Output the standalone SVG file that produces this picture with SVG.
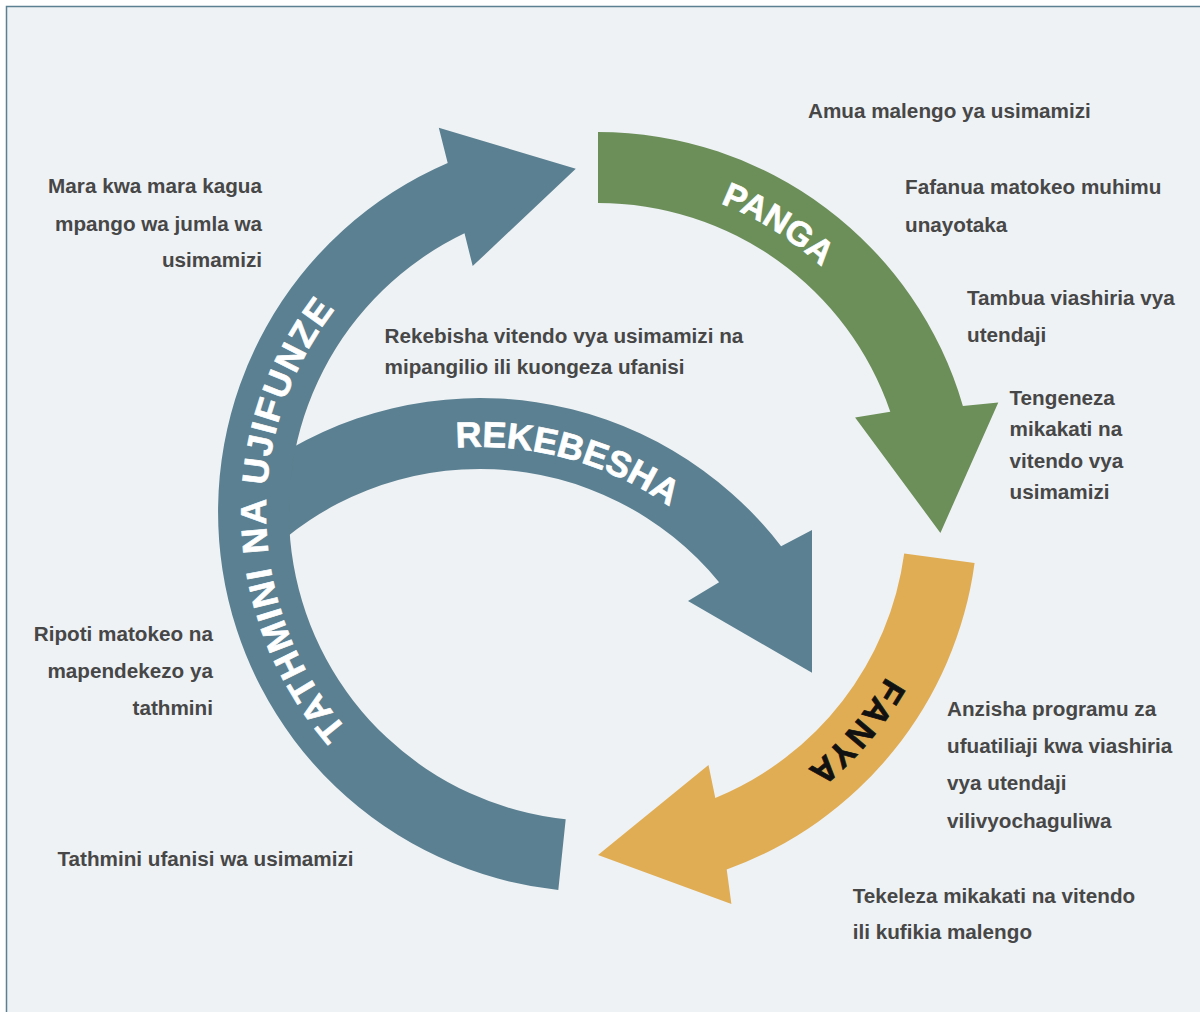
<svg xmlns="http://www.w3.org/2000/svg" width="1200" height="1012" viewBox="0 0 1200 1012">
<style>
.note{font-family:"Liberation Sans",Arial,sans-serif;font-weight:bold;font-size:20.7px;fill:#474747}
.r{text-anchor:end}
.lbl{font-family:"Liberation Sans",Arial,sans-serif;font-weight:bold;fill:#ffffff;stroke:#ffffff;stroke-width:0.7;text-anchor:middle}
.dark{fill:#111111;stroke:#111111}
.blue{fill:#5B8091}
.green{fill:#6C8F5A}
.orange{fill:#E0AD55}
</style>
<defs>
<path id="tp-panga" d="M495.4,196.2 A332,332 0 0 1 926.8,465.8"/>
<path id="tp-fanya" d="M930,514.9 A332,332 0 0 1 652.8,839.4"/>
<path id="tp-tathmini" d="M391.3,771.8 A332,332 0 0 1 378,263.3"/>
<path id="tp-rekebesha" d="M292,505.5 A331,331 0 0 1 781,640.2"/>
</defs>
<rect x="0" y="0" width="1200" height="1012" fill="#ffffff"/>
<rect x="6.5" y="6.5" width="1300" height="1100" fill="#EEF2F5" stroke="#5B8091" stroke-width="1.5"/>

<g id="connectors">
<g id="rekebesha">
<path class="blue" d="M260,468.2 A380,380 0 0 1 781.1,546.2 L812,530 L812,672.7 L688,601 L719.1,582.3 A309,309 0 0 0 260,561 Z"/>
<text class="lbl" font-size="36" letter-spacing="0"><textPath href="#tp-rekebesha" startOffset="50%">REKEBESHA</textPath></text>
</g>
<g id="tathmini-na-ujifunze">
<path class="blue" d="M558.3,889.9 A380,380 0 0 1 447.7,163 L438.8,127.7 L575.8,168.7 L472.7,266.1 L464.5,233.3 A309,309 0 0 0 565.7,819.3 Z"/>
<text class="lbl" font-size="36" letter-spacing="2.2"><textPath href="#tp-tathmini" startOffset="50%">TATHMINI NA UJIFUNZE</textPath></text>
</g>
<g id="panga">
<path class="green" d="M598,132 A380,380 0 0 1 962.9,406 L998.3,402.5 L940.4,532.9 L855.1,417.4 L890.3,411.7 A309,309 0 0 0 598,203 Z"/>
<text class="lbl" font-size="34"><textPath href="#tp-panga" startOffset="50%">PANGA</textPath></text>
</g>
<g id="fanya">
<path class="orange" d="M974.6,562.9 A380,380 0 0 1 726.7,869.5 L731.4,903.9 L598,855 L708.5,764.9 L715.3,797.9 A309,309 0 0 0 904.2,553.4 Z"/>
<text class="lbl dark" font-size="34" letter-spacing="2.5"><textPath href="#tp-fanya" startOffset="50%">FANYA</textPath></text>
</g>
</g>

<g id="note-amua"><text class="note" x="808" y="117.5">Amua malengo ya usimamizi</text></g>
<g id="note-fafanua"><text class="note" x="905" y="193.6">Fafanua matokeo muhimu</text><text class="note" x="905" y="231.5">unayotaka</text></g>
<g id="note-tambua"><text class="note" x="967" y="305.2">Tambua viashiria vya</text><text class="note" x="967" y="342">utendaji</text></g>
<g id="note-tengeneza"><text class="note" x="1009.5" y="405">Tengeneza</text><text class="note" x="1009.5" y="436.3">mikakati na</text><text class="note" x="1009.5" y="467.6">vitendo vya</text><text class="note" x="1009.5" y="499">usimamizi</text></g>
<g id="note-mara"><text class="note r" x="262" y="193.3">Mara kwa mara kagua</text><text class="note r" x="262" y="230.7">mpango wa jumla wa</text><text class="note r" x="262" y="267">usimamizi</text></g>
<g id="note-rekebisha"><text class="note" x="384.6" y="343">Rekebisha vitendo vya usimamizi na</text><text class="note" x="384.6" y="374">mipangilio ili kuongeza ufanisi</text></g>
<g id="note-ripoti"><text class="note r" x="213" y="640.7">Ripoti matokeo na</text><text class="note r" x="213" y="678">mapendekezo ya</text><text class="note r" x="213" y="715">tathmini</text></g>
<g id="note-tathmini"><text class="note" x="57.4" y="865.7">Tathmini ufanisi wa usimamizi</text></g>
<g id="note-anzisha"><text class="note" x="947" y="716">Anzisha programu za</text><text class="note" x="947" y="752.7">ufuatiliaji kwa viashiria</text><text class="note" x="947" y="790">vya utendaji</text><text class="note" x="947" y="827.7">vilivyochaguliwa</text></g>
<g id="note-tekeleza"><text class="note" x="852.7" y="902.7">Tekeleza mikakati na vitendo</text><text class="note" x="852.7" y="939.3">ili kufikia malengo</text></g>
</svg>
